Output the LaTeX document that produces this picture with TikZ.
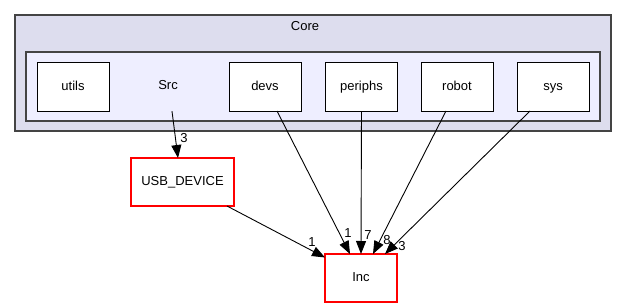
\documentclass[tikz,border=0pt]{standalone}
\usepackage{fontspec}
\setmainfont{Liberation Sans}
\usetikzlibrary{positioning, arrows.meta}
\definecolor{clusterouter}{HTML}{DDDDEE}
\definecolor{clusterinner}{HTML}{EEEEFF}
\definecolor{clusterline}{HTML}{444444}

\begin{document}
\begin{tikzpicture}[x=1pt, y=-1pt]
    % Stili per cartelle e dipendenze
    \tikzset{
        cluster_box/.style={
            draw=clusterline, % Bordo scuro
            line width=1.6pt,
            fill=clusterouter, % Sfondo
            inner sep=0pt
        },
        dir_box/.style={
            draw=black, % Bordo visibile
            fill=white, % Sfondo
            text=black,
            line width=1pt,
            minimum width=72pt, % Larghezza della cartella
            minimum height=49pt, % Altezza della cartella
            align=center,
            font=\fontsize{13}{15}\selectfont,
            text height=9.5pt, % Stessa linea di base per tutti
            text depth=2.5pt,
            outer sep=0pt,
            inner sep=0pt
        },
        red_box/.style={
            draw=red, % Bordo rosso
            fill=white,
            text=black,
            line width=1.4pt,
            minimum width=72pt,
            minimum height=48pt,
            align=center,
            font=\fontsize{13}{15}\selectfont,
            text height=9.5pt,
            text depth=2.5pt,
            outer sep=0pt,
            inner sep=0pt
        },
        dir_label/.style={
            font=\fontsize{13}{15}\selectfont,
            text height=9.5pt,
            text depth=2.5pt,
            inner sep=0pt
        },
        dep/.style={
            draw=black,
            line width=0.9pt,
            -{Triangle[length=13pt, width=10pt]}
        },
        dep_label/.style={
            font=\fontsize{13}{15}\selectfont,
            inner sep=0pt
        }
    }

    \useasboundingbox (0,0) rectangle (627,308);

    % Cartella Core con la sottocartella Src
    \node[cluster_box, minimum width=596pt, minimum height=116pt] (core) at (313,73) {};
    \node[dir_label] (core_label) at (305,27) {Core};
    \node[cluster_box, fill=clusterinner, minimum width=574pt, minimum height=69pt] (src) at (313,86.5) {};
    \node[dir_label] (src_label) at (168,86) {Src};

    % Sottocartelle di Src
    \node[dir_box] (utils) at (73,86.5) {utils};
    \node[dir_box] (devs) at (265,86.5) {devs};
    \node[dir_box] (periphs) at (361.5,86.5) {periphs};
    \node[dir_box] (robot) at (457,86.5) {robot};
    \node[dir_box] (sys) at (553,86.5) {sys};

    % Cartelle esterne
    \node[red_box, minimum width=103pt] (usb_device) at (182.5,182) {USB\_DEVICE};
    \node[red_box] (inc) at (361,278) {Inc};

    % Src dipende da USB_DEVICE
    \draw[dep] ([xshift=4pt, yshift=-19pt]src_label.south) -- ([xshift=-4.5pt]usb_device.north)
        node[dep_label] at (184,138) {3};

    % Tutte le dipendenze verso Inc
    \draw[dep] ([xshift=44.5pt]usb_device.south) -- ([yshift=-3.5pt]inc.north west)
        node[dep_label] at (312,242) {1};
    \draw[dep] ([xshift=12pt]devs.south) -- ([xshift=-11pt]inc.north)
        node[dep_label] at (348,233) {1};
    \draw[dep] (periphs.south) -- (inc.north)
        node[dep_label] at (368,235) {7};
    \draw[dep] ([xshift=-11pt]robot.south) -- ([xshift=12pt]inc.north)
        node[dep_label] at (387,240) {8};
    \draw[dep] ([xshift=-23pt]sys.south) -- ([xshift=24pt]inc.north)
        node[dep_label] at (402,246) {3};

\end{tikzpicture}
\end{document}
